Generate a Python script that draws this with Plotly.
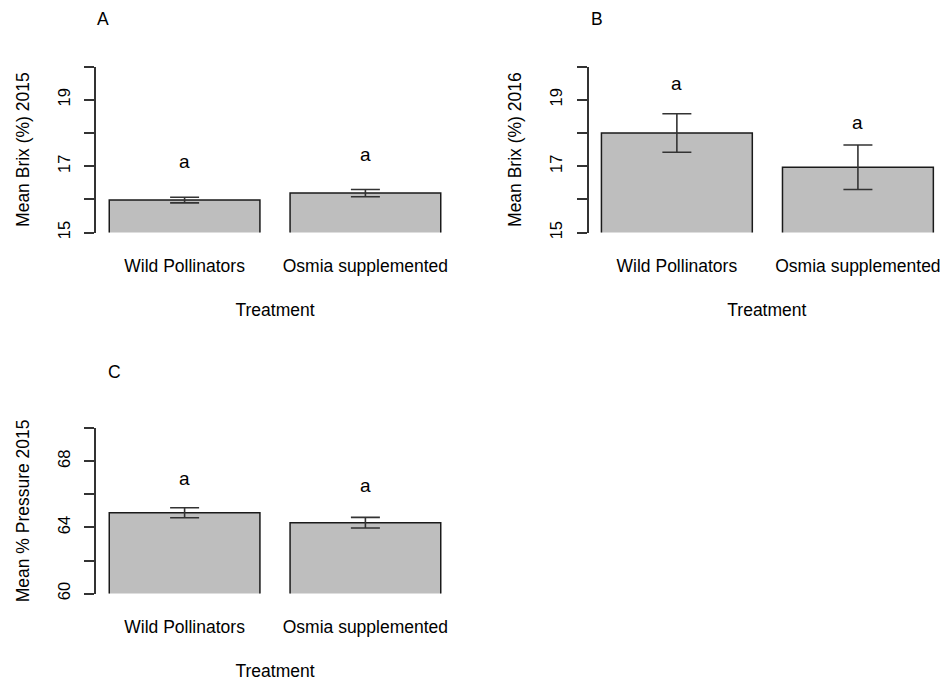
import plotly.graph_objects as go

# ---- data ----
categories = ["Wild Pollinators", "Osmia supplemented"]

brix_2015 = [15.98, 16.19]
brix_2015_se = [0.085, 0.11]
brix_2015_letters = ["a", "a"]
brix_2015_letter_y = [17.07, 17.30]

brix_2016 = [18.0, 16.97]
brix_2016_se = [0.58, 0.67]
brix_2016_letters = ["a", "a"]
brix_2016_letter_y = [19.42, 18.26]

pressure_2015 = [64.89, 64.29]
pressure_2015_se = [0.30, 0.32]
pressure_2015_letters = ["a", "a"]
pressure_2015_letter_y = [66.85, 66.42]

brix_ticks = [15, 16, 17, 18, 19, 20]
brix_ticktext = ["15", "", "17", "", "19", ""]
pressure_ticks = [60, 62, 64, 66, 68, 70]
pressure_ticktext = ["60", "", "64", "", "68", ""]

panel_labels = ["A", "B", "C"]
x_title = "Treatment"
y_titles = ["Mean Brix (%) 2015", "Mean Brix (%) 2016", "Mean % Pressure 2015"]

# ---- layout helpers ----
W, H = 945, 684
FONT = "Liberation Sans, Arial, sans-serif"


def px_x(a, b):
    return [a / W, b / W]


def px_y(top, bottom):
    return [1 - bottom / H, 1 - top / H]


panels = [
    dict(vals=brix_2015, se=brix_2015_se, letters=brix_2015_letters, ly=brix_2015_letter_y,
         yrange=[15, 20], tv=brix_ticks, tt=brix_ticktext,
         xdom=px_x(96, 454), ydom=px_y(67.3, 235), xrange=[-0.49, 1.49],
         label_pos=(102.5, 19.2)),
    dict(vals=brix_2016, se=brix_2016_se, letters=brix_2016_letters, ly=brix_2016_letter_y,
         yrange=[15, 20], tv=brix_ticks, tt=brix_ticktext,
         xdom=px_x(588.7, 945), ydom=px_y(67.3, 235), xrange=[-0.487, 1.481],
         label_pos=(596.8, 19.7)),
    dict(vals=pressure_2015, se=pressure_2015_se, letters=pressure_2015_letters, ly=pressure_2015_letter_y,
         yrange=[60, 70], tv=pressure_ticks, tt=pressure_ticktext,
         xdom=px_x(96, 454), ydom=px_y(432.7, 599.7), xrange=[-0.49, 1.49],
         label_pos=(114.5, 376.3)),
]

fig = go.Figure()
annotations = []
layout = {}

for i, p in enumerate(panels):
    n = "" if i == 0 else str(i + 1)
    fig.add_trace(go.Bar(
        x=categories, y=p["vals"],
        xaxis="x" + n, yaxis="y" + n,
        width=1 / 1.2,
        marker=dict(color="#BEBEBE", line=dict(color="#1a1a1a", width=1.5)),
        error_y=dict(type="data", array=p["se"], visible=True,
                     color="#333333", thickness=1.6, width=14.5),
        showlegend=False, hoverinfo="skip",
    ))
    layout["xaxis" + n] = dict(
        domain=p["xdom"], anchor="y" + n, type="category",
        range=p["xrange"], showline=False, showgrid=False, zeroline=False,
        ticks="", ticklabelstandoff=21,
        tickfont=dict(family=FONT, size=17.5, color="#000"),
        title=dict(text=x_title, font=dict(family=FONT, size=17.5, color="#000"), standoff=28),
    )
    layout["yaxis" + n] = dict(
        domain=p["ydom"], anchor="x" + n, range=p["yrange"],
        showline=True, linecolor="#333333", linewidth=1.5,
        showgrid=False, zeroline=False,
        ticks="outside", ticklen=10, tickwidth=1.5, tickcolor="#333333",
        tickvals=p["tv"], ticktext=p["tt"], tickangle=-90,
        ticklabelstandoff=8,
        tickfont=dict(family=FONT, size=16.5, color="#000"),
        title=dict(text=y_titles[i], font=dict(family=FONT, size=17.5, color="#000"), standoff=21),
    )
    for c, lt, yy in zip(categories, p["letters"], p["ly"]):
        annotations.append(dict(
            x=c, y=yy, xref="x" + n, yref="y" + n, text=lt, showarrow=False,
            font=dict(family=FONT, size=19, color="#000"),
            xanchor="center", yanchor="middle", yshift=2,
        ))
    lx, ly = p["label_pos"]
    annotations.append(dict(
        x=lx / W, y=1 - ly / H, xref="paper", yref="paper", text=panel_labels[i],
        showarrow=False, font=dict(family=FONT, size=17.5, color="#000"),
        xanchor="center", yanchor="middle",
    ))

fig.update_layout(
    width=W, height=H, autosize=False,
    margin=dict(l=0, r=0, t=0, b=0),
    paper_bgcolor="white", plot_bgcolor="white",
    annotations=annotations,
    **layout,
)

fig.write_html("out.html", config={"displayModeBar": False, "responsive": False})

# remove the browser's default page margin so the figure sits at (0, 0)
with open("out.html", encoding="utf-8") as f:
    html = f.read()
html = html.replace("<head>", "<head><style>html,body{margin:0;padding:0;overflow:hidden;}</style>", 1)
with open("out.html", "w", encoding="utf-8") as f:
    f.write(html)
